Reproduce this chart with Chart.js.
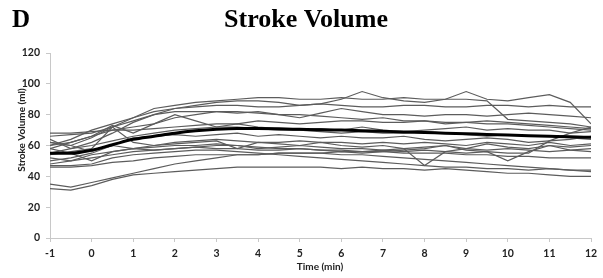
<!DOCTYPE html>
<html>
<head>
<meta charset="utf-8">
<script src="https://cdn.jsdelivr.net/npm/chart.js@4/dist/chart.umd.min.js"></script>
<style>
  html, body { margin: 0; padding: 0; background: #fff; }
  #wrap { position: relative; width: 603px; height: 278px; }
</style>
</head>
<body>
<div id="wrap"><canvas id="chart" width="603" height="278"></canvas></div>
<script>
// Time points (min), every half minute
const times = [-1, -0.5, 0, 0.5, 1, 1.5, 2, 2.5, 3, 3.5, 4, 4.5, 5, 5.5, 6, 6.5, 7, 7.5, 8, 8.5, 9, 9.5, 10, 10.5, 11, 11.5, 12];

// Group mean (thick line)
const meanSV = [55, 55, 57, 60.5, 64, 66, 68, 69.5, 70.5, 71, 71, 70.8, 70.5, 70.2, 70, 69.6, 69.2, 68.8, 68.4, 68, 67.6, 67.2, 66.8, 66.4, 66, 65.6, 65.3];

// Individual subjects
const sv01 = [62, 60, 65, 72, 78, 84, 86, 88, 89, 90, 91, 91, 90, 90, 91, 90, 90, 91, 90, 90, 90, 89, 77, 76, 75, 74, 72];
const sv02 = [64, 58, 62, 68, 75, 80, 84, 86, 88, 89, 89, 88, 86, 87, 90, 95, 91, 89, 88, 90, 95, 90, 89, 91, 93, 88, 74];
const sv03 = [60, 64, 70, 74, 78, 82, 84, 85, 86, 86, 85, 85, 86, 87, 86, 85, 85, 86, 86, 85, 85, 86, 86, 85, 86, 85, 85];
const sv04 = [66, 67, 68, 72, 76, 80, 82, 82, 82, 81, 82, 80, 78, 81, 84, 82, 80, 80, 79, 80, 80, 79, 80, 81, 80, 79, 78];
const sv05 = [58, 62, 66, 70, 72, 74, 78, 80, 82, 82, 81, 80, 80, 79, 78, 77, 78, 76, 76, 75, 75, 74, 74, 73, 72, 71, 70];
const sv06 = [68, 68, 69, 70, 70, 71, 72, 73, 74, 74, 76, 75, 74, 75, 76, 76, 75, 75, 76, 74, 75, 76, 75, 74, 73, 72, 71];
const sv07 = [60, 62, 66, 73, 68, 74, 80, 76, 72, 74, 72, 71, 70, 71, 70, 72, 70, 69, 70, 71, 72, 70, 71, 70, 70, 68, 72];
const sv08 = [55, 58, 60, 63, 66, 68, 70, 71, 72, 72, 71, 70, 70, 69, 68, 69, 68, 68, 69, 68, 67, 66, 67, 66, 66, 65, 64];
const sv09 = [50, 52, 55, 60, 65, 66, 67, 66, 67, 68, 66, 67, 66, 65, 66, 65, 65, 66, 64, 63, 64, 65, 64, 62, 63, 64, 66];
const sv10 = [54, 56, 58, 72, 62, 60, 62, 63, 64, 63, 62, 62, 63, 62, 62, 61, 62, 61, 62, 61, 60, 62, 61, 60, 62, 60, 61];
const sv11 = [62, 60, 56, 60, 58, 60, 61, 62, 63, 58, 62, 61, 60, 62, 60, 59, 60, 58, 59, 60, 58, 61, 59, 58, 60, 59, 60];
const sv12 = [52, 50, 54, 56, 58, 59, 60, 60, 61, 60, 58, 59, 60, 59, 58, 58, 57, 58, 47, 56, 58, 57, 58, 57, 56, 57, 58];
const sv13 = [58, 55, 50, 56, 58, 57, 58, 59, 58, 58, 57, 57, 58, 57, 56, 56, 57, 56, 57, 56, 55, 56, 50, 56, 60, 57, 56];
const sv14 = [48, 50, 52, 54, 56, 57, 58, 59, 60, 60, 59, 58, 58, 57, 57, 56, 56, 55, 55, 55, 54, 54, 53, 53, 52, 52, 52];
const sv15 = [47, 47, 48, 52, 54, 55, 56, 57, 57, 56, 55, 54, 53, 52, 51, 50, 49, 48, 47, 46, 46, 45, 45, 44, 45, 44, 44];
const sv16 = [46, 46, 47, 49, 50, 52, 53, 54, 54, 54, 54, 55, 55, 55, 56, 55, 56, 57, 58, 60, 57, 56, 55, 55, 63, 68, 69];
const sv17 = [35, 33, 36, 39, 42, 45, 48, 50, 52, 54, 54, 55, 55, 55, 54, 54, 53, 52, 51, 50, 49, 48, 47, 46, 45, 44, 43];
const sv18 = [32, 31, 34, 38, 41, 42, 43, 44, 45, 46, 46, 46, 46, 46, 45, 46, 45, 45, 44, 45, 44, 43, 42, 42, 41, 40, 40];

const subjects = [sv01, sv02, sv03, sv04, sv05, sv06, sv07, sv08, sv09, sv10, sv11, sv12, sv13, sv14, sv15, sv16, sv17, sv18];

const yTicks = [0, 20, 40, 60, 80, 100, 120];
const xTicks = [-1, 0, 1, 2, 3, 4, 5, 6, 7, 8, 9, 10, 11, 12];

const toPoints = arr => arr.map((v, i) => ({ x: times[i], y: v }));

const datasets = [{
    label: 'Mean',
    data: toPoints(meanSV),
    borderColor: '#000',
    borderWidth: 3,
    pointRadius: 0,
    cubicInterpolationMode: 'monotone'
}];
subjects.forEach((s, i) => {
    datasets.push({
        label: 'Subject ' + (i + 1),
        data: toPoints(s),
        borderColor: '#5c5c5c',
        borderWidth: 1.2,
        pointRadius: 0,
        tension: 0
    });
});

// Titles drawn on the canvas
const titlesPlugin = {
    id: 'titles',
    afterDraw(chart) {
        const ctx = chart.ctx;
        ctx.save();
        ctx.fillStyle = '#000';
        ctx.textBaseline = 'alphabetic';
        ctx.font = 'bold 25px "Liberation Serif", "Times New Roman", serif';
        ctx.textAlign = 'left';
        ctx.fillText('D', 12, 27);
        ctx.font = 'bold 26px "Liberation Serif", "Times New Roman", serif';
        ctx.textAlign = 'center';
        ctx.fillText('Stroke Volume', 306, 27);

        ctx.fillStyle = '#222';
        ctx.font = 'bold 10px Lato, "Open Sans", sans-serif';
        ctx.textBaseline = 'middle';
        ctx.fillText('Time (min)', 320, 267);
        ctx.translate(22, 130);
        ctx.rotate(-Math.PI / 2);
        ctx.fillText('Stroke Volume (ml)', 0, 0);
        ctx.restore();
    }
};

new Chart(document.getElementById('chart'), {
    type: 'line',
    data: { datasets: datasets },
    options: {
        responsive: false,
        animation: false,
        layout: { padding: { top: 53, right: 12, bottom: 0, left: 0 } },
        plugins: {
            legend: { display: false },
            title: { display: false },
            tooltip: { enabled: false }
        },
        scales: {
            x: {
                type: 'linear',
                min: -1,
                max: 12,
                afterBuildTicks: axis => { axis.ticks = xTicks.map(v => ({ value: v })); },
                afterFit: axis => { axis.height = 40; },
                border: { color: '#c8c8c8', width: 1 },
                grid: { drawOnChartArea: false, tickLength: 4, color: '#c8c8c8' },
                ticks: {
                    padding: 5,
                    color: '#222',
                    maxRotation: 0,
                    font: { family: 'Lato, "Open Sans", sans-serif', size: 10.5, weight: 'bold' }
                }
            },
            y: {
                min: 0,
                max: 120,
                afterBuildTicks: axis => { axis.ticks = yTicks.map(v => ({ value: v })); },
                afterFit: axis => { axis.width = 50; },
                border: { color: '#c8c8c8', width: 1 },
                grid: { drawOnChartArea: false, tickLength: 4, color: '#c8c8c8' },
                ticks: {
                    padding: 6,
                    color: '#222',
                    font: { family: 'Lato, "Open Sans", sans-serif', size: 10.5, weight: 'bold' }
                }
            }
        }
    },
    plugins: [titlesPlugin]
});
</script>
</body>
</html>
